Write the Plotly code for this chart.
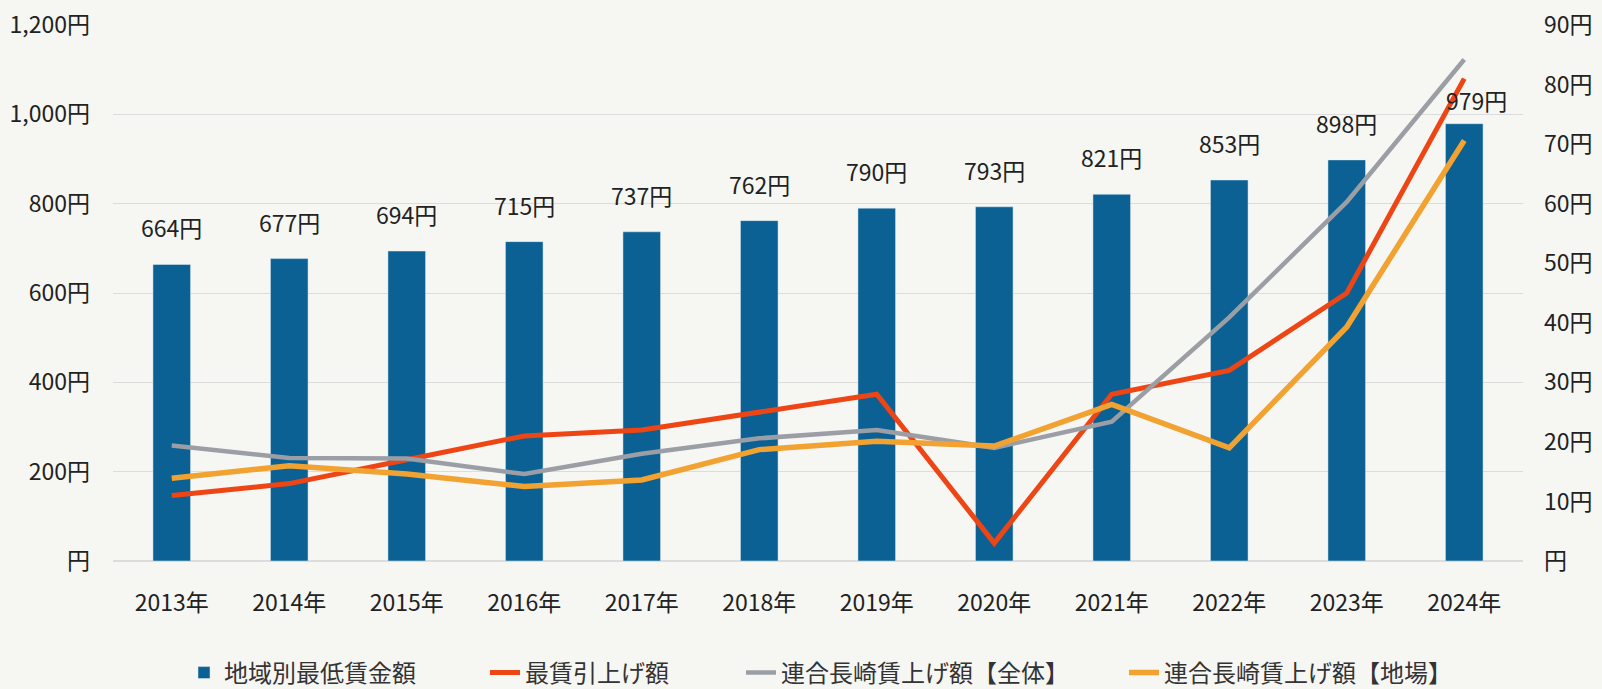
import plotly.graph_objects as go

years = ["2013年", "2014年", "2015年", "2016年", "2017年", "2018年",
         "2019年", "2020年", "2021年", "2022年", "2023年", "2024年"]
min_wage = [664, 677, 694, 715, 737, 762, 790, 793, 821, 853, 898, 979]
min_wage_raise = [11, 13, 17, 21, 22, 25, 28, 3, 28, 32, 45, 81]
rengo_all = [19.4, 17.3, 17.2, 14.6, 18.0, 20.6, 22.0, 19.0, 23.4, 40.9, 60.3, 84.2]
rengo_local = [13.9, 16.0, 14.6, 12.5, 13.6, 18.7, 20.1, 19.3, 26.3, 19.0, 39.3, 70.6]

left_ticks = [0, 200, 400, 600, 800, 1000, 1200]
left_text = ["円", "200円", "400円", "600円", "800円", "1,000円", "1,200円"]
right_ticks = [0, 10, 20, 30, 40, 50, 60, 70, 80, 90]
right_text = ["円", "10円", "20円", "30円", "40円", "50円", "60円", "70円", "80円", "90円"]

names = ["地域別最低賃金額", "最賃引上げ額", "連合長崎賃上げ額【全体】", "連合長崎賃上げ額【地場】"]

FONT = "Noto Sans CJK JP"
BG = "#f6f6f3"

fig = go.Figure()
fig.add_trace(go.Bar(x=years, y=min_wage, name=names[0], marker_color="#0b6193",
                     width=0.32, legend="legend"))
fig.add_trace(go.Scatter(x=years, y=min_wage_raise, name=names[1], mode="lines",
                         line=dict(color="#ee4515", width=5), yaxis="y2", legend="legend2"))
fig.add_trace(go.Scatter(x=years, y=rengo_all, name=names[2], mode="lines",
                         line=dict(color="#9b9ea4", width=4.5), yaxis="y2", legend="legend3"))
fig.add_trace(go.Scatter(x=years, y=rengo_local, name=names[3], mode="lines",
                         line=dict(color="#f2a231", width=5.5), yaxis="y2", legend="legend4"))

for i, (yr, v) in enumerate(zip(years, min_wage)):
    last = i == len(years) - 1
    fig.add_annotation(x=yr, y=v, text=f"{v}円", showarrow=False,
                       yshift=24 if last else 37, xshift=12 if last else 0,
                       font=dict(size=23, color="#222222", family=FONT))

ML, MR, MT, MB = 113, 79, 25, 128
W, H = 1602, 689

leg_y = 1 - 673 / H
leg_common = dict(orientation="h", yanchor="middle", xanchor="left", y=leg_y,
                  xref="container", yref="container",
                  bgcolor="rgba(0,0,0,0)", font=dict(size=24, color="#333333", family=FONT))

fig.update_layout(
    width=W, height=H,
    margin=dict(l=ML, r=MR, t=MT, b=MB, autoexpand=False),
    paper_bgcolor=BG, plot_bgcolor=BG,
    font=dict(family=FONT, color="#222222"),
    showlegend=True,
    legend=dict(x=184 / W, **leg_common),
    legend2=dict(x=485 / W, **leg_common),
    legend3=dict(x=741 / W, **leg_common),
    legend4=dict(x=1124 / W, **leg_common),
    xaxis=dict(tickfont=dict(size=23, color="#222222"), showgrid=False, showline=False,
               ticks="", ticklabelstandoff=26),
    yaxis=dict(range=[0, 1200], tickvals=left_ticks, ticktext=left_text,
               tickfont=dict(size=23, color="#222222"), showgrid=True,
               gridcolor="#dcdcdc", gridwidth=1, zeroline=True, zerolinecolor="#dcdcdc",
               ticklabelstandoff=22),
    yaxis2=dict(range=[0, 90], tickvals=right_ticks, ticktext=right_text, overlaying="y",
                side="right", showgrid=False, zeroline=False,
                tickfont=dict(size=23, color="#222222"), ticklabelstandoff=20),
)

fig.write_html("out.html", config={"displayModeBar": False},
               post_script="document.body.style.margin='0';document.body.style.padding='0';"
                           "document.body.style.background='" + BG + "';")
